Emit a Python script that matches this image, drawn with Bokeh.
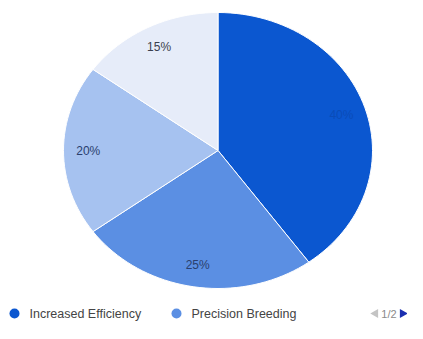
import math
from bokeh.plotting import figure
from bokeh.models import Range1d
from bokeh.core.properties import value
from bokeh.embed import file_html
from bokeh.resources import INLINE

# ---- data ----
categories = ["Increased Efficiency", "Precision Breeding", "Improved Animal Health", "Reduced Environmental Impact"]
shares = [40, 25, 20, 15]
slice_labels = ["40%", "25%", "20%", "15%"]
slice_colors = ["#0b57d0", "#5b8fe3", "#a6c2f0", "#e6ecf9"]
label_colors = ["#0a4cb8", "#2a3f6e", "#2a3f6e", "#3a3f4e"]
legend_shown = 2
pager_text = "1/2"

# ---- layout (pixels in figure space, y up) ----
W, H = 407, 323
CX, CY = 217.5, H - 150.0
RX, RY = 154.5, 138.0
LABEL_R = 0.84
FONT = "Liberation Sans"

p = figure(width=W, height=H, output_backend="svg", toolbar_location=None,
           x_range=Range1d(0, W), y_range=Range1d(0, H), min_border=0)
p.axis.visible = False
p.grid.visible = False
p.outline_line_color = None
p.background_fill_color = "white"
p.border_fill_color = "white"

total = float(sum(shares))
xs, ys, lx, ly = [], [], [], []
cum = 0.0
for v in shares:
    a0 = cum / total * 2 * math.pi
    a1 = (cum + v) / total * 2 * math.pi
    n = max(8, int(160 * v / total))
    px, py = [CX], [CY]
    for i in range(n + 1):
        a = a0 + (a1 - a0) * i / n
        px.append(CX + RX * math.sin(a))
        py.append(CY + RY * math.cos(a))
    xs.append(px)
    ys.append(py)
    am = (a0 + a1) / 2
    lx.append(CX + LABEL_R * RX * math.sin(am))
    ly.append(CY + LABEL_R * RY * math.cos(am))
    cum += v

p.patches(xs, ys, fill_color=slice_colors, line_color="white", line_width=1)
p.text(lx, ly, text=slice_labels, text_color=label_colors, text_font=value(FONT),
       text_font_size="12px", text_align="center", text_baseline="middle")

# ---- legend (page 1 of 2) ----
LEG_Y = 10
leg_x = [14, 176]
p.scatter([leg_x[i] for i in range(legend_shown)], [LEG_Y] * legend_shown, size=10,
          marker="circle", fill_color=slice_colors[:legend_shown], line_color=None)
p.text([leg_x[i] + 15 for i in range(legend_shown)], [LEG_Y] * legend_shown,
       text=categories[:legend_shown], text_color="#444444", text_font=value(FONT),
       text_font_size="12.5px", text_align="left", text_baseline="middle")

# pager
p.scatter([375], [LEG_Y], size=9, marker="triangle", angle=math.pi / 2,
          fill_color="#c4c4c4", line_color=None)
p.text([388.5], [LEG_Y], text=[pager_text], text_color="#8a8a8a", text_font=value(FONT),
       text_font_size="11px", text_align="center", text_baseline="middle")
p.scatter([402], [LEG_Y], size=9, marker="triangle", angle=-math.pi / 2,
          fill_color="#1a2fb0", line_color=None)

open("out.html", "w").write(file_html(p, INLINE))
